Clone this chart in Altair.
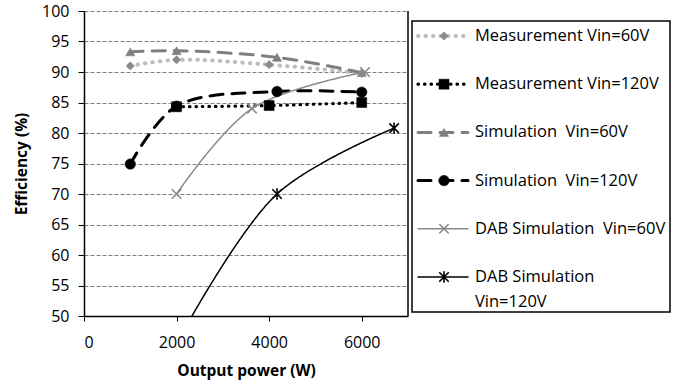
import altair as alt
import pandas as pd

# ---------------- data ----------------
series = [
    "Measurement Vin=60V",
    "Measurement Vin=120V",
    "Simulation Vin=60V",
    "Simulation Vin=120V",
    "DAB Simulation Vin=60V",
    "DAB Simulation Vin=120V",
]
legend_line1 = [
    "Measurement Vin=60V",
    "Measurement Vin=120V",
    "Simulation\u00a0\u00a0Vin=60V",
    "Simulation\u00a0\u00a0Vin=120V",
    "DAB Simulation\u00a0\u00a0Vin=60V",
    "DAB Simulation",
]
legend_line2 = ["", "", "", "", "", "Vin=120V"]

meas60_x = [1000, 2000, 4000, 6000]
meas60_y = [91.0, 92.0, 91.2, 89.8]
meas120_x = [2000, 4000, 6000]
meas120_y = [84.3, 84.5, 85.0]
sim60_x = [1000, 2000, 4170, 6000]
sim60_y = [93.3, 93.5, 92.4, 89.9]
sim120_x = [1000, 2000, 4170, 6000]
sim120_y = [74.9, 84.4, 86.8, 86.7]
dab60_x = [2000, 3630, 6070]
dab60_y = [70.0, 84.0, 90.0]
dab120_x = [2000, 4170, 6700]
dab120_y = [45.5, 70.0, 80.8]

xs = [meas60_x, meas120_x, sim60_x, sim120_x, dab60_x, dab120_x]
ys = [meas60_y, meas120_y, sim60_y, sim120_y, dab60_y, dab120_y]

x_ticks = [0, 2000, 4000, 6000]
y_ticks = [50, 55, 60, 65, 70, 75, 80, 85, 90, 95, 100]

rows = []
for s, xv, yv in zip(series, xs, ys):
    for a, b in zip(xv, yv):
        rows.append({"series": s, "power": a, "eff": b})
df = pd.DataFrame(rows)

leg = pd.DataFrame({"series": series, "l1": legend_line1, "l2": legend_line2,
                    "row": list(range(len(series)))})

# ---------------- styles ----------------
X_ASTER = "M-1,-1L1,1M-1,1L1,-1"
STAR = "M-1,-1L1,1M-1,1L1,-1M0,-1.2L0,1.2"
styles = {
    "Measurement Vin=60V": dict(color="#bdbdbd", dash=[0.5, 7], width=4, mcolor="#8a8a8a",
                                shape="diamond", size=70, filled=True),
    "Measurement Vin=120V": dict(color="#000000", dash=[0.5, 6], width=3.2, mcolor="#000000",
                                 shape="square", size=100, filled=True),
    "Simulation Vin=60V": dict(color="#7f7f7f", dash=[13, 9], width=3, mcolor="#7f7f7f",
                               shape="triangle-up", size=85, filled=True),
    "Simulation Vin=120V": dict(color="#000000", dash=[13, 9], width=3, mcolor="#000000",
                                shape="circle", size=110, filled=True),
    "DAB Simulation Vin=60V": dict(color="#8a8a8a", dash=[1, 0], width=1.5, mcolor="#8a8a8a",
                                   shape=X_ASTER, size=90, filled=False),
    "DAB Simulation Vin=120V": dict(color="#000000", dash=[1, 0], width=1.5, mcolor="#000000",
                                    shape=STAR, size=90, filled=False),
}
point_order = ["DAB Simulation Vin=60V", "DAB Simulation Vin=120V", "Simulation Vin=60V",
               "Simulation Vin=120V", "Measurement Vin=60V", "Measurement Vin=120V"]

FONT = "Open Sans"
W, H = 324, 305

xscale = alt.Scale(domain=[0, 7000], nice=False, zero=False)
yscale = alt.Scale(domain=[50, 100], nice=False, zero=False)

xaxis = alt.Axis(values=x_ticks, format="d", grid=False, title="Output power (W)",
                 labelFontSize=16, titleFontSize=15.5, titleFontWeight="bold",
                 labelFont=FONT, titleFont=FONT, labelColor="black", titleColor="black",
                 domainColor="black", domainWidth=1.5, tickColor="black", tickSize=5,
                 labelPadding=13, titlePadding=13, labelOverlap=False)
yaxis = alt.Axis(values=y_ticks, grid=True, gridDash=[4, 2], gridColor="#7f7f7f",
                 gridWidth=1, title="Efficiency (%)", labelOverlap=False,
                 labelFontSize=16, titleFontSize=15.5, titleFontWeight="bold",
                 labelFont=FONT, titleFont=FONT, labelColor="black", titleColor="black",
                 domainColor="black", domainWidth=1.5, tickColor="black", tickSize=6,
                 labelPadding=9, titlePadding=12)

XE = alt.X("power:Q", scale=xscale, axis=xaxis)
YE = alt.Y("eff:Q", scale=yscale, axis=yaxis)

base = alt.Chart(df)

layers = []
# axes / grid carrier
layers.append(base.mark_point(opacity=0).encode(x=XE, y=YE))
# right frame
layers.append(alt.Chart(pd.DataFrame({"v": [7000]})).mark_rule(color="black", strokeWidth=1.5)
              .encode(x=alt.X("v:Q", scale=xscale, axis=xaxis)))

for s in series:
    st = styles[s]
    sub = base.transform_filter(alt.datum.series == s)
    layers.append(sub.mark_line(color=st["color"], strokeDash=st["dash"], strokeWidth=st["width"],
                                strokeCap="round", interpolate="catmull-rom", clip=True)
                  .encode(x=XE, y=YE))
for s in point_order:
    st = styles[s]
    sub = base.transform_filter(alt.datum.series == s)
    if st["filled"]:
        pm = sub.mark_point(shape=st["shape"], size=st["size"], filled=True, fill=st["mcolor"],
                            stroke=st["mcolor"], strokeWidth=0.5, opacity=1, clip=True)
    else:
        pm = sub.mark_point(shape=st["shape"], size=st["size"], filled=False,
                            stroke=st["mcolor"], strokeWidth=1.6, opacity=1, clip=True)
    layers.append(pm.encode(x=XE, y=YE))

# ---------------- legend (drawn in pixel space to the right of the plot) ----------------
layers.append(alt.Chart(pd.DataFrame({"v": [0]})).mark_rect(fill="white", stroke="black",
                                                              strokeWidth=1.5)
              .encode(x=alt.value(328), x2=alt.value(586), y=alt.value(10), y2=alt.value(301)))

lbase = alt.Chart(leg).transform_calculate(ly="25 + datum.row * 48.2")
for s in series:
    st = styles[s]
    sub = lbase.transform_filter(alt.datum.series == s)
    layers.append(sub.mark_rule(color=st["color"], strokeDash=st["dash"], strokeWidth=st["width"],
                                strokeCap="round")
                  .encode(x=alt.value(334), x2=alt.value(384),
                          y=alt.Y("ly:Q", scale=None, axis=None)))
    if st["filled"]:
        pm = sub.mark_point(shape=st["shape"], size=st["size"], filled=True, fill=st["mcolor"],
                            stroke=st["mcolor"], strokeWidth=0.5, opacity=1)
    else:
        pm = sub.mark_point(shape=st["shape"], size=st["size"], filled=False,
                            stroke=st["mcolor"], strokeWidth=1.6, opacity=1)
    layers.append(pm.encode(x=alt.value(360), y=alt.Y("ly:Q", scale=None, axis=None)))

layers.append(lbase.mark_text(align="left", baseline="middle", font=FONT, fontSize=16.5,
                              color="black")
              .encode(x=alt.value(391), y=alt.Y("ly:Q", scale=None, axis=None), text="l1:N"))
layers.append(lbase.mark_text(align="left", baseline="middle", font=FONT, fontSize=16.5,
                              color="black", dy=25)
              .encode(x=alt.value(391), y=alt.Y("ly:Q", scale=None, axis=None), text="l2:N"))

chart = alt.layer(*layers).properties(
    width=W, height=H,
    autosize=alt.AutoSizeParams(type="none"),
    padding={"left": 84, "top": 11, "right": 678 - 84 - W, "bottom": 386 - 11 - H},
    background="white",
).configure_view(stroke=None)

chart.save("out.html", embed_options={"renderer": "svg", "actions": False})
